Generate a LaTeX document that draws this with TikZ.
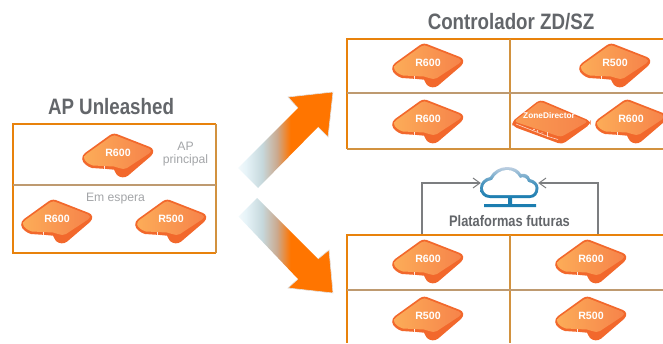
\documentclass[tikz,border=0pt]{standalone}
\usepackage{fontspec}
\setmainfont{Liberation Sans}
\newfontfamily\condfont[FakeStretch=0.84]{Liberation Sans Bold}
\usetikzlibrary{arrows.meta,calc}
\definecolor{orA}{HTML}{E8820C}
\definecolor{tanA}{HTML}{D2923F}
\definecolor{tanB}{HTML}{BE9A70}
\definecolor{devDark}{HTML}{F2682C}
\definecolor{devLight}{HTML}{FCAC58}
\definecolor{devMid}{HTML}{F6834A}
\definecolor{arrowO}{HTML}{FF7500}
\definecolor{titleG}{HTML}{63666A}
\definecolor{lightG}{HTML}{A3A5A8}
\definecolor{connG}{HTML}{7C7E80}
\definecolor{cloudA}{HTML}{1B7DB0}
\definecolor{cloudB}{HTML}{BFD0E2}
\definecolor{fadeA}{HTML}{E6F3F8}
\definecolor{fadeB}{HTML}{C6D8DC}
\definecolor{fadeC}{HTML}{CBA98E}
\pgfdeclarehorizontalshading{fadearrow}{100bp}{
 color(0bp)=(white); color(30bp)=(white); color(35bp)=(fadeA);
 color(40.5bp)=(fadeB); color(45.5bp)=(fadeC); color(50bp)=(arrowO); color(100bp)=(arrowO)}
\tikzset{
 title/.style={font=\condfont\fontsize{22.3}{26}\selectfont,text=titleG,inner sep=0pt},
 sublabel/.style={font=\condfont\fontsize{15.3}{18}\selectfont,text=titleG,inner sep=0pt},
 thin label/.style={font=\fontsize{12.2}{14}\selectfont,text=lightG,inner sep=0pt,align=center},
 devtext/.style={font=\bfseries\fontsize{10.6}{12}\selectfont,text=white,inner sep=0pt},
 zdtext/.style={font=\bfseries\fontsize{8.3}{10}\selectfont,text=white,inner sep=0pt},
 connline/.style={draw=connG,line width=1.1pt,-{Straight Barb[length=7pt,width=10pt,line width=1pt]}},
 boxedge/.style={draw=orA,line width=2pt},
 tanedge/.style={draw=tanA,line width=2pt},
 divedge/.style={draw=tanB,line width=1.8pt},
}
\newcommand{\apdev}[4]{%
 \begin{scope}[shift={(#2,#3)}]
  \fill[devDark] (-33,0) -- (-8,-18) .. controls (-6,-19.5) and (-2,-19.8) .. (0,-18.5)
   -- (32,-6) .. controls (35,-4.8) and (37,-1) .. (33,3)
   -- (10,22.7) .. controls (7,25) and (2,25) .. (-1,22) .. controls (-3,20) and (-3,17.5) .. (-4,16.7)
   -- (-11,16) -- (-26,15) .. controls (-30,14) and (-35.7,10) .. (-35.8,6) .. controls (-35.8,3.5) and (-35,1.5) .. (-33,0) -- cycle;
  \shade[left color=devLight,right color=devMid] (-31.5,1) -- (-7,-16.5) .. controls (-5,-18) and (-2,-18) .. (0,-16.5)
   -- (31,-4.5) .. controls (33.5,-3.5) and (33.5,-1.5) .. (31,0.5)
   -- (9,15) .. controls (7,16.3) and (4,16.3) .. (1,15)
   -- (-4,13.5) -- (-25,12.5) .. controls (-29,11.5) and (-33.8,8) .. (-33.8,5.5) .. controls (-33.8,3.5) and (-33,2) .. (-31.5,1) -- cycle;
  \fill[white,opacity=.85] (-14.5,13) rectangle (-13.5,16);
  \node[devtext] (#1) at (0,0) {#4};
 \end{scope}}
\begin{document}
\begin{tikzpicture}[x=1pt,y=-1pt]
\useasboundingbox (0,0) rectangle (663,343);

% AP Unleashed
\node[title] (t1) at (111,107) {AP Unleashed};
\draw[boxedge] (216,124) -- (13,124) -- (13,253) -- (216,253);
\draw[draw=tanA,line width=1.6pt] (216,124) -- (216,253);
\draw[divedge] (13,185) -- (216,185);
\apdev{d1}{118}{153}{R600}
\apdev{d2}{57}{219}{R600}
\apdev{d3}{171}{219}{R500}
\node[thin label] (l1) at (185.5,154) {AP\\[-0.5pt]principal};
\node[thin label] (l2) at (115.5,199) {Em espera};

% Controller
\node[title] (t2) at (511,22) {Controlador ZD/SZ};
\draw[boxedge] (663,38.5) -- (347,38.5) -- (347,149);
\draw[tanedge] (347,149) -- (663,149);
\draw[tanedge] (510,38.5) -- (510,149);
\draw[divedge] (347,93) -- (663,93);
\apdev{d4}{428}{63}{R600}
\apdev{d5}{615}{63}{R500}
\apdev{d6}{428}{119}{R600}
\apdev{d7}{631}{119}{R600}
% ZoneDirector
\fill[devDark,rounded corners=4pt] (511.5,122) -- (540,99.5) -- (590.5,121) -- (590.5,124) -- (562,144.5) -- (513,126.5) -- cycle;
\shade[left color=devLight!60!devMid,right color=devMid,rounded corners=3pt] (514,121.5) -- (540,101.5) -- (588,121.5) -- (561,137) -- cycle;
\draw[white,opacity=.75,line width=.6pt] (516,124) -- (548,136.5) -- (558,139.5);
\fill[white,opacity=.8] (534,129.5) circle (.8) (537.5,131) circle (.8) (541,132.5) rectangle (543,133.2);
\draw[white,opacity=.75,line width=.6pt] (547,132) -- (547,137);
\node[zdtext] (zd) at (549,116) {ZoneDirector};

% Arrows
\begin{scope}
 \clip (238,168) -- (298,108) -- (288,97) -- (333,92) -- (328,137) -- (318,127) -- (258,188) -- cycle;
 \begin{scope}[shift={(248,178)},rotate=45]
  \shade[shading=fadearrow] (0,-45) rectangle (120,45);
 \end{scope}
\end{scope}
\path[draw=black!12,line width=.6pt] (298,108) -- (288,97) -- (333,92) -- (328,137) -- (318,127);
\begin{scope}
 \clip (238,216) -- (298,279) -- (288,288) -- (333,293) -- (329,250) -- (318,259) -- (257,198) -- cycle;
 \begin{scope}[shift={(248,207)},rotate=-45]
  \shade[shading=fadearrow] (0,-45) rectangle (120,45);
 \end{scope}
\end{scope}
\path[draw=black!12,line width=.6pt] (298,279) -- (288,288) -- (333,293) -- (329,250) -- (318,259);

% Platforms
\shade[top color=cloudB,bottom color=cloudA,middle color=cloudA!70!cloudB]
 (490,198) .. controls (484,198) and (480,194) .. (480,188) .. controls (480,183) and (484,178) .. (490,177) .. controls (493,171) and (500,167) .. (507,167) .. controls (514,167) and (519,170) .. (521,174) .. controls (525,173) and (529,175) .. (530,179) .. controls (535,180) and (538.5,184) .. (538.5,188) .. controls (538.5,194) and (535,198) .. (530,198) -- cycle;
\fill[white]
 (490,195) .. controls (486,195) and (483,192) .. (483,188) .. controls (483,184) and (487,180.5) .. (492,180) .. controls (495,174) and (501,170) .. (507,170) .. controls (513,170) and (517,173) .. (520,178) .. controls (523,176) and (527,178) .. (528,182) .. controls (532,182.5) and (535.5,185) .. (535.5,188) .. controls (535.5,192) and (533,195) .. (530,195) -- cycle;
\fill[cloudA] (508,198) rectangle (512,204) (484,204) rectangle (536,207);
\node[minimum width=57pt,minimum height=30pt,inner sep=0pt] (cloud) at (509.5,183) {};
\node[sublabel] (t3) at (509.5,221) {Plataformas futuras};
\coordinate (cl) at (422,234);
\coordinate (cr) at (598,234);
\draw[connline] (cl) |- (cloud.west);
\draw[connline] (cr) |- (cloud.east);

\draw[boxedge] (663,234.5) -- (347,234.5) -- (347,343);
\draw[tanedge] (510,234.5) -- (510,343);
\draw[divedge] (347,290) -- (663,290);
\apdev{d8}{428}{259}{R600}
\apdev{d9}{591}{259}{R600}
\apdev{d10}{428}{316}{R500}
\apdev{d11}{591}{316}{R500}
\end{tikzpicture}
\end{document}
